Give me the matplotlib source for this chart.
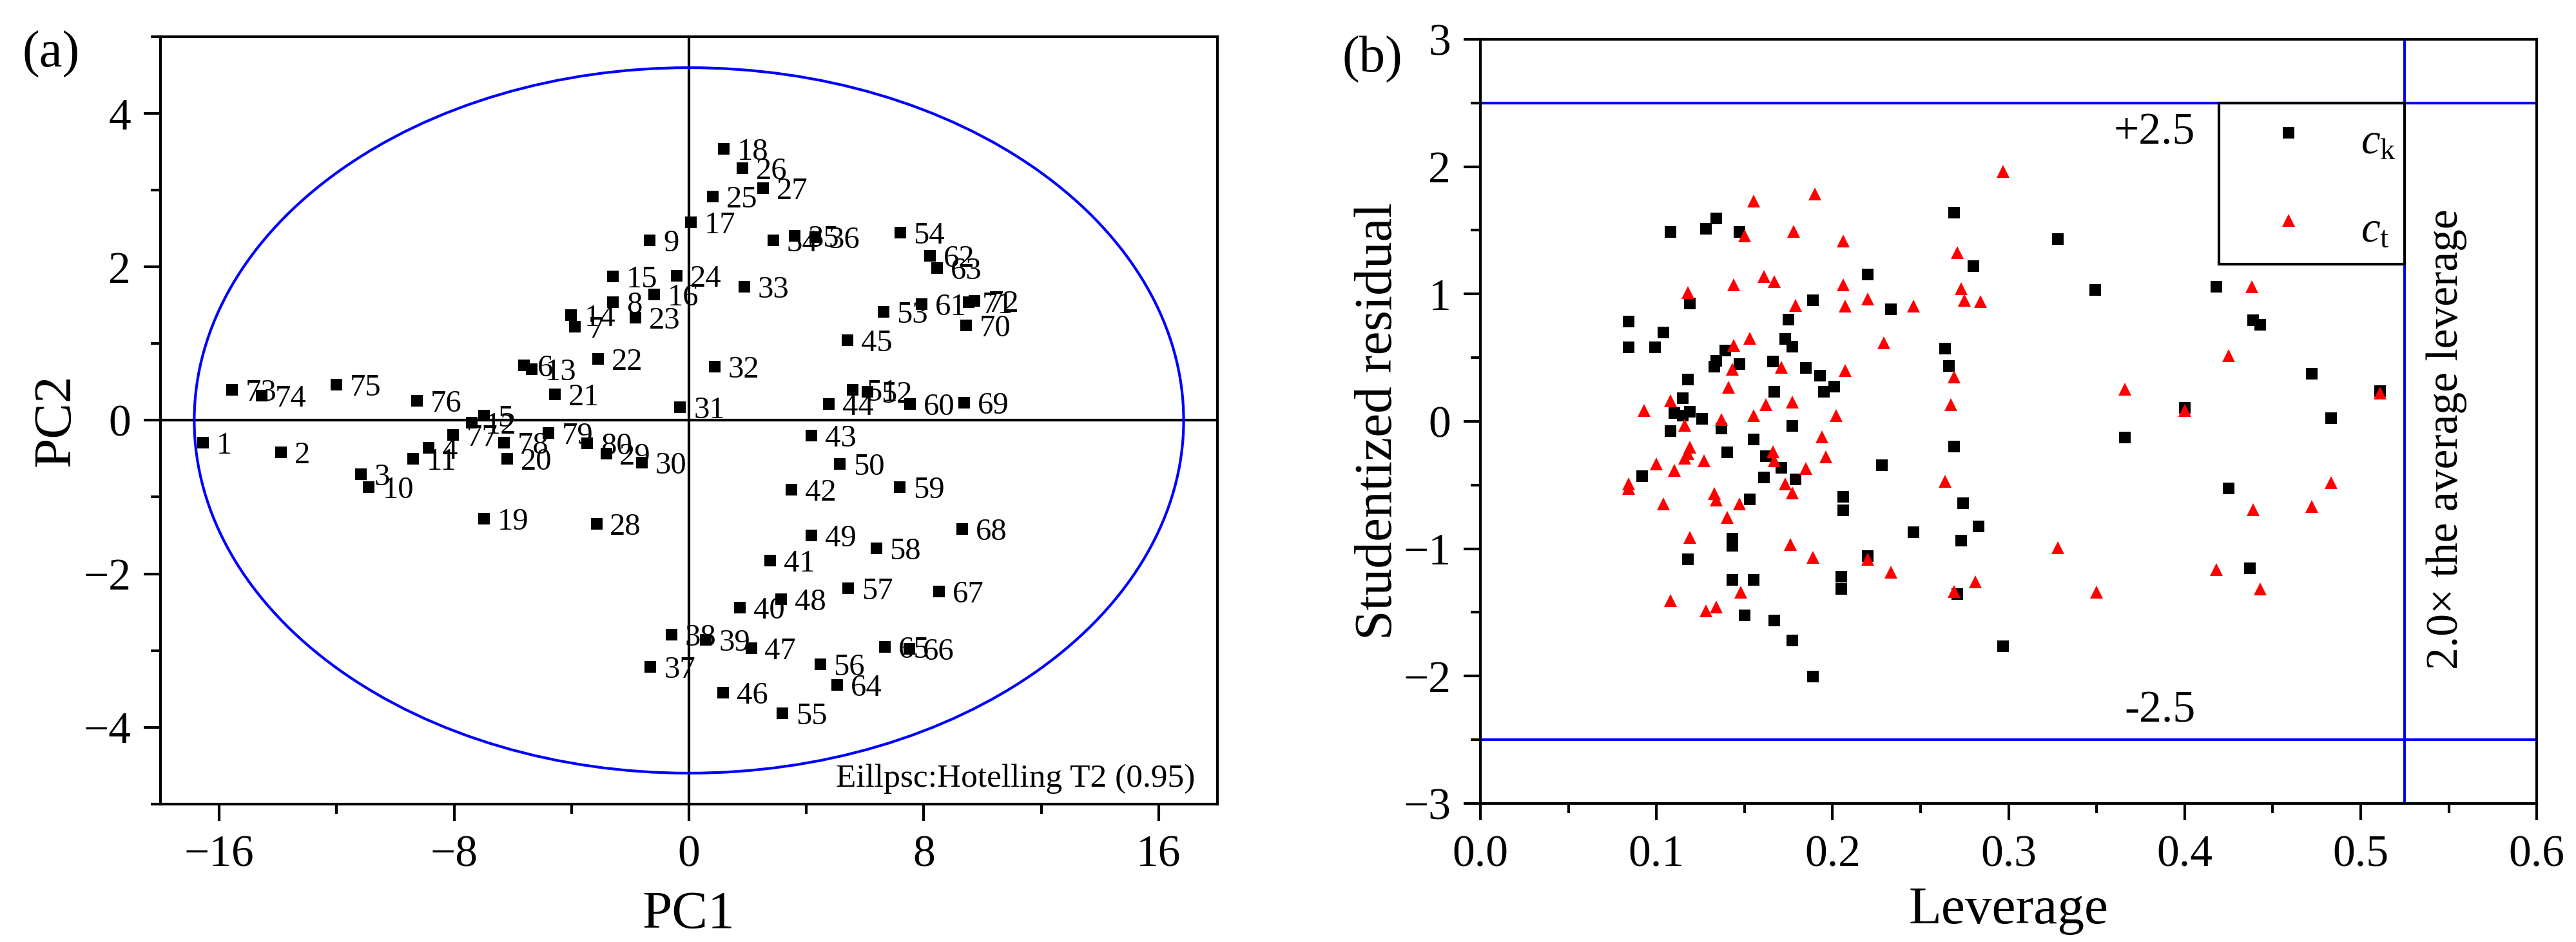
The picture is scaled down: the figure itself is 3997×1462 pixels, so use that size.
import numpy as np
import matplotlib
matplotlib.use("Agg")
import matplotlib.pyplot as plt
from matplotlib.patches import Ellipse
from matplotlib.ticker import MultipleLocator

plt.rcParams.update({
    "font.family": "serif",
    "font.serif": ["Liberation Serif", "DejaVu Serif"],
    "mathtext.fontset": "custom",
    "mathtext.rm": "Liberation Serif",
    "mathtext.it": "Liberation Serif:italic",
})

# (a) PCA scores, sample 1..80
PC1 = [-16.55, -13.90, -11.18, -8.86, -6.97, -5.61, -3.88, -2.59, -1.33, -10.90,
       -9.39, -7.40, -5.36, -4.02, -2.59, -1.19, 0.07, 1.19, -6.99, -6.20,
       -4.56, -3.10, -1.82, -0.42, 0.81, 1.82, 2.52, -3.15, -2.82, -1.60,
       -0.30, 0.88, 1.89, 2.87, 3.60, 4.30, -1.31, -0.60, 0.57, 1.73,
       2.77, 3.50, 4.17, 4.76, 5.41, 1.16, 2.12, 3.14, 4.17, 5.14,
       5.57, 6.09, 6.62, 7.19, 3.19, 4.47, 5.42, 6.38, 7.18, 7.52,
       7.93, 8.21, 8.45, 5.04, 6.68, 7.51, 8.51, 9.31, 9.38, 9.44,
       9.53, 9.72, -15.56, -14.56, -12.01, -9.26, -8.04, -6.30, -4.79, -3.47]
PC2 = [-0.29, -0.42, -0.70, -0.36, 0.06, 0.72, 1.22, 1.54, 2.35, -0.87,
       -0.50, -0.03, 0.67, 1.37, 1.88, 1.64, 2.58, 3.54, -1.28, -0.50,
       0.34, 0.80, 1.34, 1.89, 2.92, 3.29, 3.03, -1.35, -0.43, -0.55,
       0.17, 0.70, 1.74, 2.35, 2.41, 2.39, -3.21, -2.79, -2.86, -2.44,
       -1.83, -0.90, -0.20, 0.21, 1.05, -3.55, -2.97, -2.33, -1.50, -0.57,
       0.40, 0.37, 1.42, 2.45, -3.82, -3.18, -2.19, -1.67, -0.87, 0.21,
       1.52, 2.15, 1.99, -3.45, -2.95, -2.98, -2.23, -1.42, 0.23, 1.24,
       1.54, 1.56, 0.40, 0.32, 0.47, 0.26, -0.19, -0.29, -0.16, -0.30]
sample_ids = [str(i) for i in range(1, 81)]

# Hotelling T2 ellipse (semi axes)
ell_a = 16.85
ell_b = 4.6

# (b) leverage vs studentized residual
ck_lev = [0.269, 0.134, 0.128, 0.147, 0.108, 0.280, 0.220, 0.119, 0.189, 0.233,
          0.084, 0.175, 0.104, 0.084, 0.099, 0.173, 0.177, 0.139, 0.264, 0.134,
          0.133, 0.147, 0.166, 0.185, 0.193, 0.266, 0.118, 0.201, 0.195, 0.167,
          0.115, 0.110, 0.119, 0.115, 0.126, 0.108, 0.137, 0.177, 0.155, 0.140,
          0.162, 0.171, 0.092, 0.161, 0.179, 0.269, 0.228, 0.153, 0.206, 0.206,
          0.274, 0.283, 0.246, 0.273, 0.143, 0.143, 0.118, 0.220, 0.205, 0.205,
          0.143, 0.155, 0.271, 0.150, 0.167, 0.177, 0.297, 0.189, 0.328, 0.349,
          0.418, 0.439, 0.443, 0.472, 0.511, 0.400, 0.483, 0.366, 0.425, 0.437]
ck_res = [1.641, 1.595, 1.511, 1.489, 1.486, 1.219, 1.155, 0.924, 0.953, 0.882,
          0.786, 0.798, 0.696, 0.583, 0.583, 0.649, 0.587, 0.556, 0.570, 0.477,
          0.432, 0.452, 0.469, 0.418, 0.359, 0.435, 0.329, 0.275, 0.233, 0.233,
          0.182, 0.067, 0.078, 0.047, 0.022, -0.074, -0.054, -0.037, -0.141, -0.243,
          -0.273, -0.366, -0.428, -0.438, -0.455, -0.200, -0.344, -0.610, -0.593, -0.700,
          -0.641, -0.824, -0.868, -0.934, -0.922, -0.976, -1.082, -1.057, -1.217, -1.315,
          -1.246, -1.246, -1.357, -1.524, -1.563, -1.718, -1.765, -2.005, 1.430, 1.034,
          1.056, 0.792, 0.759, 0.376, 0.237, 0.104, 0.024, -0.129, -0.526, -1.156]
ct_lev = [0.297, 0.190, 0.155, 0.150, 0.178, 0.206, 0.271, 0.161, 0.167, 0.144,
          0.206, 0.118, 0.273, 0.179, 0.207, 0.220, 0.246, 0.275, 0.284, 0.153,
          0.144, 0.229, 0.143, 0.171, 0.207, 0.269, 0.141, 0.108, 0.093, 0.162,
          0.177, 0.267, 0.155, 0.202, 0.137, 0.116, 0.194, 0.119, 0.118, 0.116,
          0.127, 0.100, 0.110, 0.084, 0.084, 0.166, 0.167, 0.196, 0.185, 0.173,
          0.177, 0.133, 0.134, 0.147, 0.104, 0.140, 0.264, 0.119, 0.176, 0.189,
          0.220, 0.233, 0.281, 0.269, 0.148, 0.108, 0.134, 0.128, 0.438, 0.425,
          0.366, 0.400, 0.511, 0.483, 0.439, 0.472, 0.328, 0.418, 0.350, 0.443]
ct_res = [1.964, 1.787, 1.728, 1.455, 1.492, 1.418, 1.325, 1.138, 1.096, 1.072,
          1.071, 1.012, 1.042, 0.912, 0.907, 0.963, 0.907, 0.949, 0.941, 0.654,
          0.595, 0.617, 0.410, 0.427, 0.401, 0.347, 0.268, 0.160, 0.084, 0.132,
          0.152, 0.132, 0.047, 0.047, 0.017, -0.029, -0.120, -0.205, -0.253, -0.287,
          -0.307, -0.332, -0.386, -0.490, -0.525, -0.239, -0.307, -0.281, -0.369, -0.489,
          -0.560, -0.568, -0.619, -0.647, -0.647, -0.754, -0.472, -0.909, -0.969, -1.069,
          -1.082, -1.183, -1.259, -1.335, -1.339, -1.406, -1.458, -1.487, 1.056, 0.515,
          0.251, 0.085, 0.223, -0.479, -0.692, -0.670, -0.992, -1.164, -1.339, -1.316]

res_limit = 2.5
lev_limit = 0.525   # 2.0x the average leverage

TICK_FS = 50
LABEL_FS = 60
LW = 3

fig = plt.figure(figsize=(39.97, 14.62), dpi=100)
ax1 = fig.add_axes([0.0623, 0.1467, 0.4103, 0.8140])
ax2 = fig.add_axes([0.5747, 0.1471, 0.4101, 0.8112])

for ax in (ax1, ax2):
    for sp in ax.spines.values():
        sp.set_linewidth(LW)
    ax.tick_params(which="both", direction="out", width=LW, labelsize=TICK_FS,
                   top=False, right=False)
    ax.tick_params(which="major", length=19)
    ax.tick_params(which="minor", length=10.5)
    ax.tick_params(axis="x", pad=16)
    ax.tick_params(axis="y", pad=14)

# ---- (a)
ax1.add_patch(Ellipse((0, 0), 2 * ell_a, 2 * ell_b, fill=False, ec="#0000ff", lw=LW, zorder=2))
ax1.axhline(0, color="black", lw=LW, zorder=1)
ax1.axvline(0, color="black", lw=LW, zorder=1)
ax1.plot(PC1, PC2, "s", color="black", ms=13, mew=0, zorder=3)
for x, y, t in zip(PC1, PC2, sample_ids):
    ax1.annotate(t, (x, y), xytext=(15, 0), textcoords="offset points",
                 ha="left", va="center_baseline", fontsize=35, zorder=4)
ax1.set_xlim(-18, 18)
ax1.set_ylim(-5, 5)
ax1.xaxis.set_major_locator(MultipleLocator(8))
ax1.xaxis.set_minor_locator(MultipleLocator(4))
ax1.yaxis.set_major_locator(MultipleLocator(2))
ax1.yaxis.set_minor_locator(MultipleLocator(1))
ax1.set_xlabel("PC1", fontsize=LABEL_FS, labelpad=16)
ax1.set_ylabel("PC2", fontsize=LABEL_FS, labelpad=3)
ax1.text(0.9787, 0.0223, "Eillpsc:Hotelling T2 (0.95)", transform=ax1.transAxes,
         ha="right", va="baseline", fontsize=37)

# ---- (b)
ax2.axhline(res_limit, color="#0000ff", lw=LW, zorder=1)
ax2.axhline(-res_limit, color="#0000ff", lw=LW, zorder=1)
ax2.axvline(lev_limit, color="#0000ff", lw=LW, zorder=1)
h_ck, = ax2.plot(ck_lev, ck_res, "s", color="black", ms=12.5, mew=0, zorder=3)
h_ct, = ax2.plot(ct_lev, ct_res, "^", color="#ff0000", ms=14.5, mew=0, zorder=3)
ax2.set_xlim(0, 0.6)
ax2.set_ylim(-3, 3)
ax2.xaxis.set_major_locator(MultipleLocator(0.1))
ax2.xaxis.set_minor_locator(MultipleLocator(0.05))
ax2.yaxis.set_major_locator(MultipleLocator(1))
ax2.yaxis.set_minor_locator(MultipleLocator(0.5))
ax2.set_xticklabels([f"{v:.1f}" for v in ax2.get_xticks()])
ax2.set_yticks([-3, -2, -1, 0, 1, 2, 3])
ax2.set_xlabel("Leverage", fontsize=LABEL_FS, labelpad=12)
ax2.set_ylabel("Studentized residual", fontsize=LABEL_FS, labelpad=0)

ax2.text(0.406, 2.30, "+2.5", ha="right", va="center_baseline", fontsize=TICK_FS)
ax2.text(0.406, -2.24, "-2.5", ha="right", va="center_baseline", fontsize=TICK_FS)
ax2.text(0.5487, -0.14, "2.0\u00d7 the average leverage", rotation=90,
         ha="center", va="center", fontsize=50)

leg = ax2.legend([h_ck, h_ct], [r"$c_\mathrm{k}$", r"$c_\mathrm{t}$"],
                 loc="upper right", bbox_to_anchor=(lev_limit, res_limit),
                 bbox_transform=ax2.transData, borderaxespad=0, fancybox=False,
                 framealpha=1, edgecolor="black", fontsize=48, numpoints=1,
                 borderpad=0.2, handlelength=2.85, handletextpad=0.25,
                 labelspacing=0.72, handleheight=1.65)
leg.get_frame().set_linewidth(LW)

fig.text(35 / 3997, 1 - 48 / 1462, "(a)", ha="left", va="top", fontsize=58)
fig.text(2083 / 3997, 1 - 56 / 1462, "(b)", ha="left", va="top", fontsize=58)

fig.savefig("out.png", dpi=100)
